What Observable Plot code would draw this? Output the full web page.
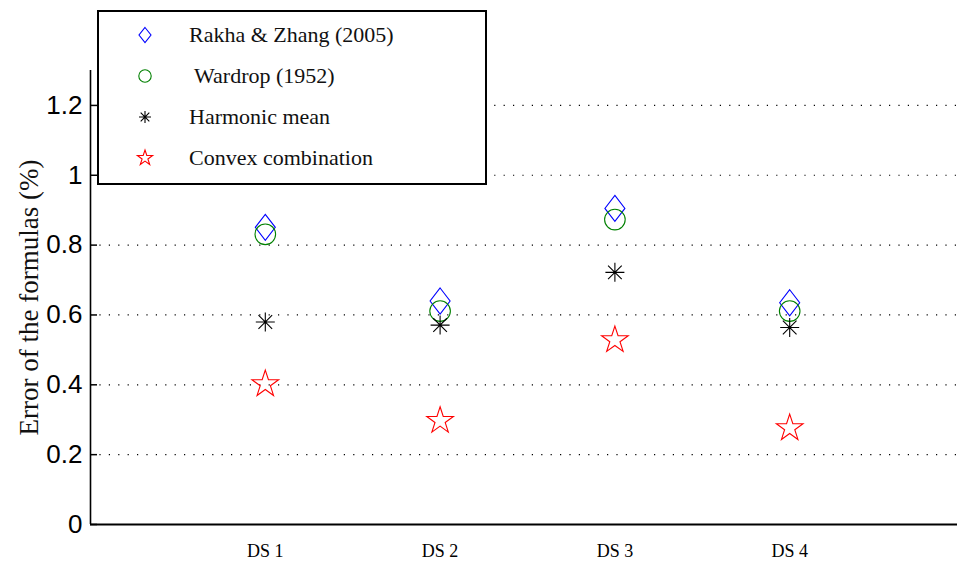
<!DOCTYPE html>
<html>
<head>
<meta charset="utf-8">
<script src="https://cdn.jsdelivr.net/npm/d3@7"></script>
<script src="https://cdn.jsdelivr.net/npm/@observablehq/plot@0.6"></script>
<style>
  body { margin: 0; background: white; }
  #wrap { position: relative; width: 957px; height: 565px; }
  #legend {
    position: absolute; left: 97px; top: 10px; width: 386px; height: 169px;
    border: 2px solid black; background: white; padding-top: 2px; box-sizing: content-box;
  }
  .row { height: 41px; position: relative; }
  .row svg { position: absolute; left: 34px; top: 9px; }
  .row span { position: absolute; left: 90px; top: 8px; font-family: "Liberation Serif", serif; font-size: 22px; color: #111; white-space: pre; }
</style>
</head>
<body>
<div id="wrap"></div>
<script>
// ---- data ----
const categories = ["DS 1", "DS 2", "DS 3", "DS 4"];
const seriesNames = ["Rakha & Zhang (2005)", " Wardrop (1952)", "Harmonic mean", "Convex combination"];
const rakhaZhang = [0.851, 0.640, 0.905, 0.635];
const wardrop    = [0.831, 0.611, 0.873, 0.611];
const harmonic   = [0.580, 0.571, 0.722, 0.564];
const convex     = [0.402, 0.297, 0.528, 0.276];
const yTicks = [0, 0.2, 0.4, 0.6, 0.8, 1, 1.2];
const yTickLabels = ["0", "0.2", "0.4", "0.6", "0.8", "1", "1.2"];
const gridTicks = [0.2, 0.4, 0.6, 0.8, 1, 1.2];

// ---- custom marker symbols (MATLAB-like) ----
function diamondSym(w, h) {
  return { draw(ctx) { ctx.moveTo(0, -h/2); ctx.lineTo(w/2, 0); ctx.lineTo(0, h/2); ctx.lineTo(-w/2, 0); ctx.closePath(); } };
}
function circleSym(r) {
  return { draw(ctx) { ctx.moveTo(r, 0); ctx.arc(0, 0, r, 0, 2*Math.PI); } };
}
function asteriskSym(a) {
  const d = a * 0.72;
  return { draw(ctx) {
    ctx.moveTo(-a, 0); ctx.lineTo(a, 0);
    ctx.moveTo(0, -a); ctx.lineTo(0, a);
    ctx.moveTo(-d, -d); ctx.lineTo(d, d);
    ctx.moveTo(-d, d); ctx.lineTo(d, -d);
  } };
}
function starSym(R) {
  const r = R * 0.382;
  return { draw(ctx) {
    for (let k = 0; k < 10; k++) {
      const ang = -Math.PI/2 + k * Math.PI/5;
      const rr = k % 2 === 0 ? R : r;
      const x = rr * Math.cos(ang), y = rr * Math.sin(ang);
      if (k === 0) ctx.moveTo(x, y); else ctx.lineTo(x, y);
    }
    ctx.closePath();
  } };
}

const colors = ["#0000ff", "#008000", "#000000", "#ff0000"];
const bigSyms = [diamondSym(20, 26), circleSym(10.3), asteriskSym(9.5), starSym(14)];
const smallSyms = [diamondSym(12, 15), circleSym(6.2), asteriskSym(6), starSym(8)];
const allValues = [rakhaZhang, wardrop, harmonic, convex];

const toRows = vals => categories.map((c, i) => ({x: i + 1, y: vals[i], cat: c}));

const chart = Plot.plot({
  width: 957,
  height: 565,
  marginLeft: 90,
  marginRight: 0,
  marginTop: 70,
  marginBottom: 41,
  x: {domain: [0, 4.96]},
  y: {domain: [0, 1.3]},
  style: {background: "white", overflow: "visible"},
  marks: [
    Plot.gridY(gridTicks, {stroke: "#000", strokeOpacity: 1, strokeWidth: 1.2, strokeDasharray: "1.2,8.2"}),
    Plot.axisY({ticks: yTicks, tickFormat: (d) => yTickLabels[yTicks.indexOf(d)], tickSize: -7, tickPadding: 15,
      fontSize: 26, fontFamily: "Liberation Sans, Arial, sans-serif", label: null, stroke: "#000", strokeWidth: 1.5, color: "#000"}),
    Plot.axisX({ticks: [1, 2, 3, 4], tickFormat: d => categories[d - 1], tickSize: 0, tickPadding: 20,
      fontSize: 18, fontFamily: "Liberation Serif, serif", label: null, color: "#000"}),
    Plot.ruleX([0], {stroke: "#000", strokeWidth: 1.6}),
    Plot.ruleY([0], {stroke: "#000", strokeWidth: 2}),
    Plot.text(["Error of the formulas (%)"], {frameAnchor: "left", textAnchor: "middle", rotate: -90, dx: -61,
      fontSize: 27, fontFamily: "Liberation Serif, serif", fill: "#111"}),
    ...allValues.map((vals, k) => Plot.dot(toRows(vals), {
      x: "x", y: "y", symbol: bigSyms[k], r: 5, fill: "none", stroke: colors[k], strokeWidth: 1.1
    }))
  ]
});

const wrap = document.getElementById("wrap");
wrap.appendChild(chart);

// legend
const legend = document.createElement("div");
legend.id = "legend";
seriesNames.forEach((name, k) => {
  const row = document.createElement("div");
  row.className = "row";
  const p = d3.path();
  smallSyms[k].draw(p);
  row.innerHTML = `<svg width="24" height="24" viewBox="-12 -12 24 24"><path d="${p.toString()}" fill="none" stroke="${colors[k]}" stroke-width="1.1"/></svg>`;
  const span = document.createElement("span");
  span.textContent = name;
  row.appendChild(span);
  legend.appendChild(row);
});
wrap.appendChild(legend);
</script>
</body>
</html>
